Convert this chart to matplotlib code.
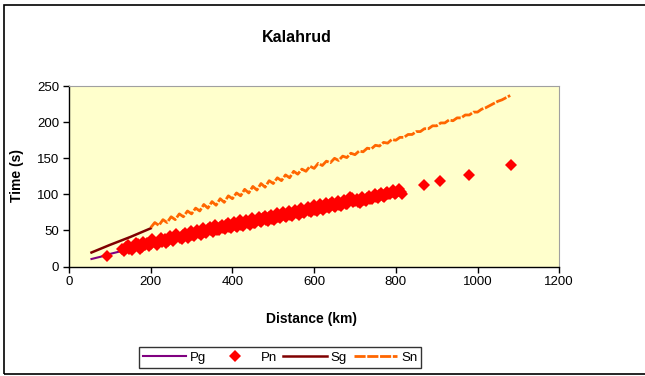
import matplotlib
matplotlib.use('Agg')
import matplotlib.pyplot as plt
from matplotlib.patches import Rectangle

plt.rcParams['font.family'] = ['Liberation Sans', 'DejaVu Sans']

# Pg and Sg: short crustal branches
pg_dist = [55, 80, 100, 125]
pg_time = [10.5, 14, 17.5, 21]
sg_dist = [55, 100, 150, 200]
sg_time = [19.5, 30, 41, 53]

# Pn picks
pn_dist = [92, 130, 140, 148, 160, 170, 178, 185, 192, 200, 205, 212, 220, 228,
           235, 242, 250, 258, 265, 272, 280, 288, 295, 302, 310, 318, 325, 332,
           340, 348, 355, 362, 370, 378, 385, 392, 400, 408, 415, 422, 430, 438,
           445, 452, 460, 468, 475, 482, 490, 498, 505, 512, 520, 528, 535, 542,
           550, 558, 565, 572, 580, 588, 595, 602, 610, 618, 625, 632, 640, 648,
           655, 662, 670, 678, 685, 692, 700, 708, 715, 722, 730, 738, 745, 752,
           760, 768, 775, 782, 790, 798, 805, 812, 870, 908, 980, 1081,
           134, 144, 155, 165, 174, 182, 196, 203, 216, 224, 238, 246, 254, 262,
           276, 284, 292, 298, 306, 314, 322, 328, 336, 344, 352, 358, 366, 374,
           382, 389, 396, 404, 412, 419, 426, 434, 442, 449, 456, 464, 471, 479,
           486, 494, 502, 509, 516, 524, 532, 539, 546, 554, 562, 569, 576, 584,
           592, 599, 606, 614, 622, 628, 636, 644, 652, 659, 666, 674, 681, 688,
           696, 704, 712, 718, 726, 734, 742, 749, 756, 764, 771, 779, 786, 794,
           801, 808, 815]
pn_time = [15, 24, 27, 25, 28, 31, 27, 30, 33, 31, 35, 33, 36, 34,
           38, 36, 40, 38, 42, 40, 44, 42, 46, 44, 48, 46, 50, 48,
           52, 50, 53, 51, 55, 53, 57, 55, 58, 56, 60, 58, 62, 60,
           63, 61, 65, 63, 67, 65, 68, 66, 70, 68, 72, 70, 74, 72,
           76, 74, 78, 76, 79, 77, 81, 79, 83, 81, 84, 82, 86, 84,
           87, 85, 89, 87, 91, 95, 91, 89, 93, 92, 95, 94, 97, 96,
           99, 98, 102, 100, 104, 101, 105, 103, 113, 118, 127, 141,
           21, 30, 23, 32, 25, 34, 28, 38, 30, 39, 33, 42, 35, 45,
           38, 47, 40, 49, 42, 51, 44, 53, 47, 55, 48, 57, 50, 58,
           52, 60, 53, 62, 55, 64, 56, 65, 58, 67, 60, 68, 62, 70,
           63, 72, 65, 74, 67, 76, 68, 77, 70, 79, 72, 81, 74, 82,
           76, 85, 77, 86, 79, 88, 81, 89, 82, 91, 84, 92, 86, 97,
           89, 94, 88, 96, 91, 98, 93, 100, 95, 102, 97, 104, 100, 106,
           102, 107, 101]

# Sn picks
sn_dist = list(range(200, 1081, 10))
sn_time = [54, 61, 57, 65, 61, 69, 65, 73, 69, 77, 73, 81, 77, 86, 81, 90,
           85, 94, 89, 98, 94, 102, 98, 107, 102, 111, 106, 115, 110, 119,
           115, 123, 119, 127, 123, 132, 128, 135, 132, 139, 136, 143, 140,
           146, 144, 150, 147, 153, 151, 157, 155, 160, 159, 164, 163, 168,
           167, 172, 171, 176, 175, 179, 179, 183, 183, 187, 187, 191, 191,
           195, 195, 199, 199, 203, 202, 206, 206, 210, 210, 214, 214, 218,
           220, 223, 226, 229, 231, 234, 237]

fig = plt.figure(figsize=(6.45, 3.76), dpi=100)
fig.patches.append(Rectangle((4 / 645, 2 / 376), 650 / 645, 369 / 376,
                             transform=fig.transFigure, fill=False,
                             edgecolor='black', linewidth=1.2))

ax = fig.add_axes([0.107, 0.291, 0.760, 0.480])
ax.set_facecolor('#FFFFCC')

ax.plot(pg_dist, pg_time, color='#800080', linewidth=1.5, label='Pg')
ax.plot(pn_dist, pn_time, linestyle='none', marker='D', markersize=5.8,
        color='#FF0000', markeredgewidth=0, label='Pn')
ax.plot(sg_dist, sg_time, color='#800000', linewidth=1.8, label='Sg')
ax.plot(sn_dist, sn_time, color='#FF6600', linewidth=2.0,
        linestyle=(0, (4, 0.6)), label='Sn')

ax.set_xlim(0, 1200)
ax.set_ylim(0, 250)
ax.set_xticks(range(0, 1201, 200))
ax.set_yticks(range(0, 251, 50))
ax.tick_params(direction='out', length=4, width=1, labelsize=9.5, pad=3)

for side in ['top', 'right']:
    ax.spines[side].set_color('#A0A0A0')
    ax.spines[side].set_linewidth(0.8)
for side in ['left', 'bottom']:
    ax.spines[side].set_linewidth(1)

fig.text(297 / 645, 1 - 37 / 376, 'Kalahrud', ha='center', va='center',
         fontsize=11.5, fontweight='bold')
fig.text(312 / 645, 1 - 319 / 376, 'Distance (km)', ha='center', va='center',
         fontsize=10, fontweight='bold')
fig.text(17 / 645, 1 - 176 / 376, 'Time (s)', ha='center', va='center',
         rotation=90, fontsize=10, fontweight='bold')

leg = fig.legend(loc='center', bbox_to_anchor=(280 / 645, 1 - 357.5 / 376),
                 ncol=4, fontsize=9.5, frameon=True, fancybox=False,
                 edgecolor='black', handlelength=3.3, columnspacing=0.5,
                 handletextpad=0.3, borderpad=0.3)
leg.get_frame().set_linewidth(1)

fig.savefig('out.png', dpi=100)
